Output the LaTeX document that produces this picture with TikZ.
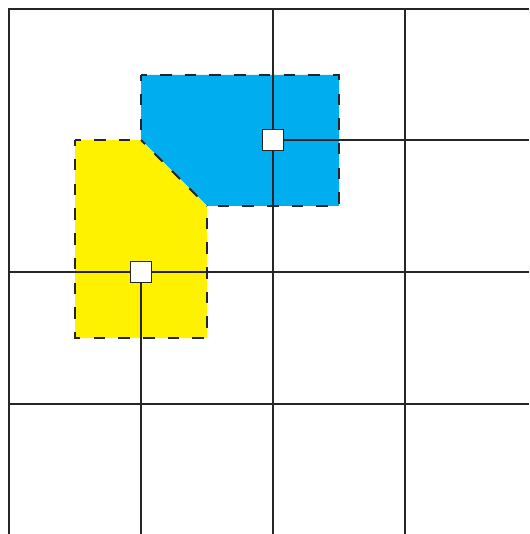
\documentclass[tikz,border=0pt]{standalone}
\begin{document}
\begin{tikzpicture}[x=1pt,y=-1pt,
  gridline/.style={line width=1.3pt,draw=black!85},
  regionedge/.style={line width=2pt,draw=black!85,dash pattern=on 11.5pt off 13.2pt,dash phase=5.7pt},
  marker/.style={draw=black!85,fill=white,line width=1.8pt,minimum size=21pt,inner sep=0pt,rectangle}]
\useasboundingbox (0,0) rectangle (529,534);
\definecolor{cyanfill}{HTML}{00AEEF}
\definecolor{yellowfill}{HTML}{FFF200}
% regions
\fill[cyanfill] (141,75) -- (339,75) -- (339,206) -- (207,206) -- (141,140) -- cycle;
\fill[yellowfill] (75,140) -- (141,140) -- (207,206) -- (207,338) -- (75,338) -- cycle;
% grid
\draw[gridline] (9,534) -- (9,9) -- (529,9);
\draw[gridline] (273,9) -- (273,534);
\draw[gridline] (405,9) -- (405,534);
\draw[gridline] (9,272) -- (529,272);
\draw[gridline] (9,404) -- (529,404);
% dashed outlines
\draw[regionedge] (141,75) -- (339,75) -- (339,206) -- (207,206);
\draw[regionedge] (141,75) -- (141,140);
\draw[regionedge] (75,140) -- (75,338) -- (207,338) -- (207,206);
\draw[regionedge] (75,140) -- (141,140);
\draw[regionedge] (141,140) -- (207,206);
% markers
\node[marker] (mb) at (273,140) {};
\node[marker] (my) at (141,272) {};
\coordinate (eb) at (529,140);
\coordinate (ey) at (141,534);
\draw[gridline] (mb) -- (eb);
\draw[gridline] (my) -- (ey);
\end{tikzpicture}
\end{document}
